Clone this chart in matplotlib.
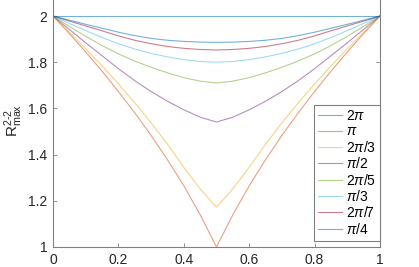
import numpy as np
import matplotlib
matplotlib.use('Agg')
import matplotlib.pyplot as plt

plt.rcParams['font.family'] = ['Liberation Sans', 'DejaVu Sans']
plt.rcParams['mathtext.fontset'] = 'custom'
plt.rcParams['mathtext.rm'] = 'Liberation Sans'
plt.rcParams['mathtext.it'] = 'Liberation Sans:italic'
plt.rcParams['mathtext.bf'] = 'Liberation Sans:bold'

x = [0, 0.05, 0.1, 0.15, 0.2, 0.25, 0.3, 0.35, 0.4, 0.45, 0.5,
     0.55, 0.6, 0.65, 0.7, 0.75, 0.8, 0.85, 0.9, 0.95, 1]

r_2pi = [2.0] * 21
r_pi = [2.000, 1.924, 1.844, 1.761, 1.673, 1.581, 1.483, 1.378, 1.265, 1.140, 1.000,
        1.140, 1.265, 1.378, 1.483, 1.581, 1.673, 1.761, 1.844, 1.924, 2.000]
r_2pi3 = [2.000, 1.930, 1.858, 1.784, 1.706, 1.624, 1.538, 1.445, 1.345, 1.252, 1.172,
          1.252, 1.345, 1.445, 1.538, 1.624, 1.706, 1.784, 1.858, 1.930, 2.000]
r_pi2 = [2.000, 1.942, 1.884, 1.828, 1.772, 1.720, 1.673, 1.631, 1.594, 1.562, 1.541,
         1.562, 1.594, 1.631, 1.673, 1.720, 1.772, 1.828, 1.884, 1.942, 2.000]
r_2pi5 = [2.000, 1.955, 1.912, 1.872, 1.836, 1.805, 1.778, 1.754, 1.733, 1.718, 1.710,
          1.718, 1.733, 1.754, 1.778, 1.805, 1.836, 1.872, 1.912, 1.955, 2.000]
r_pi3 = [2.000, 1.968, 1.937, 1.907, 1.880, 1.857, 1.838, 1.823, 1.811, 1.803, 1.800,
         1.803, 1.811, 1.823, 1.838, 1.857, 1.880, 1.907, 1.937, 1.968, 2.000]
r_2pi7 = [2.000, 1.978, 1.957, 1.936, 1.914, 1.895, 1.880, 1.868, 1.860, 1.855, 1.853,
          1.855, 1.860, 1.868, 1.880, 1.895, 1.914, 1.936, 1.957, 1.978, 2.000]
r_pi4 = [2.000, 1.982, 1.964, 1.947, 1.930, 1.915, 1.903, 1.895, 1.890, 1.887, 1.886,
         1.887, 1.890, 1.895, 1.903, 1.915, 1.930, 1.947, 1.964, 1.982, 2.000]

labels = [r'$2\pi$', r'$\pi$', r'$2\pi/3$', r'$\pi/2$', r'$2\pi/5$', r'$\pi/3$', r'$2\pi/7$', r'$\pi/4$']
series = [r_2pi, r_pi, r_2pi3, r_pi2, r_2pi5, r_pi3, r_2pi7, r_pi4]
# matlab default colour order
colors = ['#0072BD', '#D95319', '#EDB120', '#7E2F8E', '#77AC30', '#4DBEEE', '#A2142F', '#0072BD']

xticks = [0, 0.2, 0.4, 0.6, 0.8, 1]
xticklabels = ['0', '0.2', '0.4', '0.6', '0.8', '1']
yticks = [1, 1.2, 1.4, 1.6, 1.8, 2]
yticklabels = ['1', '1.2', '1.4', '1.6', '1.8', '2']

fig = plt.figure(figsize=(4.19, 2.67), dpi=100)
ax = fig.add_axes([53 / 419, 20 / 267, 327 / 419, 254.1 / 267])

for ys, lab, c in zip(series, labels, colors):
    ax.plot(x, ys, color=c, lw=0.8, alpha=0.55, label=lab)

ax.set_xlim(0, 1)
ax.set_ylim(1, 2.1)
ax.set_xticks(xticks)
ax.set_xticklabels(xticklabels)
ax.set_yticks(yticks)
ax.set_yticklabels(yticklabels)
ax.tick_params(direction='in', length=3, width=0.6, color='#808080', labelsize=10,
               labelcolor='#262626', right=True, pad=4)
for s in ['left', 'bottom', 'right']:
    ax.spines[s].set_color('#808080')
    ax.spines[s].set_linewidth(0.8)
ax.spines['top'].set_visible(False)

ax.set_ylabel('$\\mathregular{R^{2\u20102}_{max}}$', fontsize=11, color='#262626', labelpad=2)

leg = ax.legend(loc='lower right', bbox_to_anchor=(1.0, 0.024), borderaxespad=0,
                fontsize=10, handlelength=1.7, handletextpad=0.3, labelspacing=0.1,
                borderpad=0.3, fancybox=False, framealpha=1)
leg.get_frame().set_edgecolor('#808080')
leg.get_frame().set_linewidth(0.8)

fig.savefig('out.png', dpi=100)
